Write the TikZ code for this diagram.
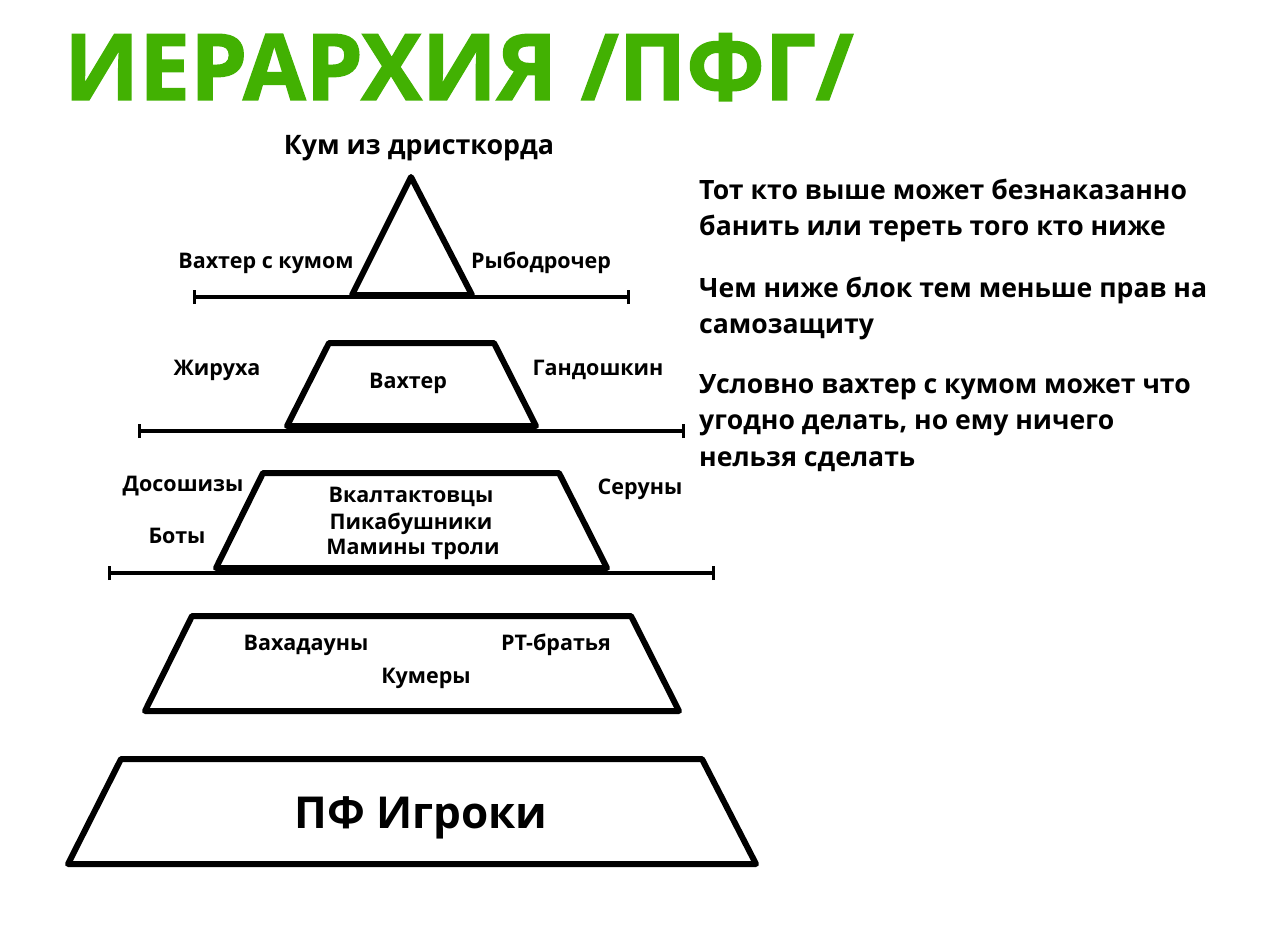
\documentclass[tikz,border=0pt]{standalone}
\usepackage{fontspec}
\setmainfont{Open Sans}[BoldFont={* Bold}]
\newfontfamily\titlefont{Open Sans}[UprightFont={* Bold},FakeStretch=0.99,FakeBold=1.5]
\definecolor{ttlgreen}{HTML}{42B102}
\tikzset{
  blk/.style={draw=black,line width=6pt,line join=round,fill=white},
  lvl/.style={draw=black,line width=4pt},
  tk/.style={draw=black,line width=3pt},
  lbl/.style={font=\fontsize{21.5}{24}\selectfont\bfseries,inner sep=0pt,yshift=-3pt},
  note/.style={font=\fontsize{26.6}{30}\selectfont\bfseries,inner sep=0pt,anchor=base west},
}
\begin{document}
\begin{tikzpicture}[x=1pt,y=-1pt]
\useasboundingbox[fill=white] (0,0) rectangle (1280,931);
% title
\node[font=\titlefont\fontsize{92}{92}\selectfont,text=ttlgreen,anchor=base west,inner sep=0pt] (title) at (64,100) {ИЕРАРХИЯ /ПФГ/};
% level lines
\coordinate (l1a) at (194,297); \coordinate (l1b) at (628,297);
\coordinate (l2a) at (139,431); \coordinate (l2b) at (683,431);
\coordinate (l3a) at (109,573); \coordinate (l3b) at (713,573);
\foreach \a/\b in {l1a/l1b,l2a/l2b,l3a/l3b}{
  \draw[lvl] (\a) -- (\b);
  \draw[tk] ([yshift=-7pt]\a) -- ([yshift=7pt]\a);
  \draw[tk] ([yshift=-7pt]\b) -- ([yshift=7pt]\b);
}
% blocks
\draw[blk] (411,177) -- (472,295) -- (352,295) -- cycle;
\draw[blk] (329,343) -- (494,343) -- (536,426) -- (287,426) -- cycle;
\draw[blk] (263,473) -- (559,473) -- (607,568) -- (216,568) -- cycle;
\draw[blk] (192,616) -- (631,616) -- (679,711) -- (145,711) -- cycle;
\draw[blk] (121,759) -- (702,759) -- (756,864) -- (68,864) -- cycle;
% labels
\node[font=\fontsize{26.8}{30}\selectfont\bfseries,inner sep=0pt,yshift=-3pt] (kum) at (419,145) {Кум из дристкорда};
\node[lbl] (vk) at (266,260) {Вахтер с кумом};
\node[lbl] (ryb) at (541,260) {Рыбодрочер};
\node[lbl] (zh) at (217,367) {Жируха};
\node[lbl] (vah) at (408,380) {Вахтер};
\node[lbl] (gand) at (598,367) {Гандошкин};
\node[lbl] (dos) at (183,483) {Досошизы};
\node[lbl] (ser) at (640,486) {Серуны};
\node[lbl] (bot) at (177,533) {Боты};
\node[lbl] (vkal) at (411,494) {Вкалтактовцы};
\node[lbl] (pik) at (411,521) {Пикабушники};
\node[lbl] (mam) at (413,546) {Мамины троли};
\node[lbl] (vahad) at (306,642) {Вахадауны};
\node[lbl] (rt) at (556,642) {РТ-братья};
\node[lbl] (kumr) at (426,675) {Кумеры};
\node[font=\fontsize{44}{48}\selectfont\bfseries,inner sep=0pt,yshift=-5pt] (pf) at (421,813) {ПФ Игроки};
% notes
\node[note] (n1a) at (699,199) {Тот кто выше может безнаказанно};
\node[note] (n1b) at (699,235) {банить или тереть того кто ниже};
\node[note] (n2a) at (699,297) {Чем ниже блок тем меньше прав на};
\node[note] (n2b) at (699,333) {самозащиту};
\node[note] (n3a) at (699,393) {Условно вахтер с кумом может что};
\node[note] (n3b) at (699,429) {угодно делать, но ему ничего};
\node[note] (n3c) at (699,466) {нельзя сделать};
\end{tikzpicture}
\end{document}
